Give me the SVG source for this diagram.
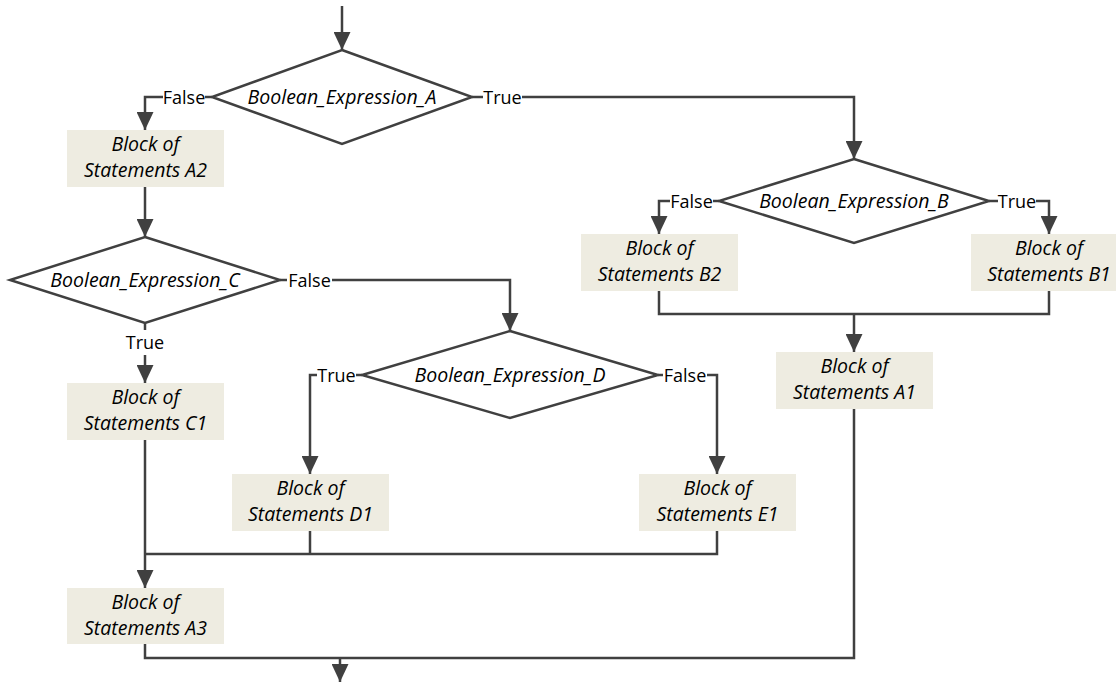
<svg xmlns="http://www.w3.org/2000/svg" width="1119" height="683" viewBox="0 0 1119 683">
<style>
.ln{fill:none;stroke:#404040;stroke-width:2.5;}
.arr{marker-end:url(#ah);}
.box{fill:#EEECE1;stroke:none;}
.dia{fill:#FFFFFF;stroke:#404040;stroke-width:2.5;stroke-linejoin:miter;}
.bt{font-family:"Open Sans","Liberation Sans",sans-serif;font-style:italic;font-size:19.5px;fill:#000;text-anchor:middle;}
.lb{font-family:"Open Sans","Liberation Sans",sans-serif;font-size:18px;fill:#000;text-anchor:middle;}
</style>
<defs>
<marker id="ah" viewBox="0 0 18 17" refX="18" refY="8.5" markerWidth="18" markerHeight="17" markerUnits="userSpaceOnUse" orient="auto">
<path d="M0,0 L18,8.5 L0,17 z" fill="#404040"/>
</marker>
</defs>
<rect width="1119" height="683" fill="#FFFFFF"/>
<g id="connectors">
<path class="ln arr" d="M342,6 L342,50"/>
<path class="ln" d="M212,97 L205,97"/>
<path class="ln arr" d="M163,97 L145,97 L145,130"/>
<path class="ln" d="M472,97 L483,97"/>
<path class="ln arr" d="M522,97 L854,97 L854,159"/>
<path class="ln arr" d="M145,187 L145,237"/>
<path class="ln" d="M280,280 L287,280"/>
<path class="ln arr" d="M332,280 L510,280 L510,331"/>
<path class="ln" d="M145,323 L145,330"/>
<path class="ln arr" d="M145,355 L145,383"/>
<path class="ln" d="M362,375 L356,375"/>
<path class="ln arr" d="M317,375 L310,375 L310,474"/>
<path class="ln" d="M658,375 L663,375"/>
<path class="ln arr" d="M707,375 L717,375 L717,474"/>
<path class="ln arr" d="M145,440 L145,588"/>
<path class="ln" d="M310,531 L310,554"/>
<path class="ln" d="M717,531 L717,554 L145,554"/>
<path class="ln" d="M145,644 L145,658 L854,658 L854,409"/>
<path class="ln arr" d="M340,658 L340,682"/>
<path class="ln" d="M719,201 L713,201"/>
<path class="ln arr" d="M670,201 L659,201 L659,234"/>
<path class="ln" d="M989,201 L998,201"/>
<path class="ln arr" d="M1036,201 L1049,201 L1049,234"/>
<path class="ln" d="M659,291 L659,314 L1049,314 L1049,291"/>
<path class="ln arr" d="M854,314 L854,352"/>
<text class="lb" x="184" y="103.5">False</text>
<text class="lb" x="502.5" y="103.5">True</text>
<text class="lb" x="309.5" y="286.5">False</text>
<text class="lb" x="145" y="348.5">True</text>
<text class="lb" x="336.5" y="381.5">True</text>
<text class="lb" x="685" y="381.5">False</text>
<text class="lb" x="691.5" y="207.5">False</text>
<text class="lb" x="1017" y="207.5">True</text>
</g>
<g id="decA">
<polygon class="dia" points="342,50 472,97 342,144 212,97"/>
<text class="bt" x="342" y="104">Boolean_Expression_A</text>
</g>
<g id="decB">
<polygon class="dia" points="854,159 989,201 854,243 719,201"/>
<text class="bt" x="854" y="208">Boolean_Expression_B</text>
</g>
<g id="decC">
<polygon class="dia" points="145,237 280,280 145,323 10,280"/>
<text class="bt" x="145" y="287">Boolean_Expression_C</text>
</g>
<g id="decD">
<polygon class="dia" points="510,331 658,375 510,418 362,375"/>
<text class="bt" x="510" y="382">Boolean_Expression_D</text>
</g>
<g id="boxA2">
<rect class="box" x="67" y="130" width="157" height="57"/>
<text class="bt" x="145.5" y="151">Block of</text>
<text class="bt" x="145.5" y="177">Statements A2</text>
</g>
<g id="boxB2">
<rect class="box" x="581" y="234" width="157" height="57"/>
<text class="bt" x="659.5" y="255">Block of</text>
<text class="bt" x="659.5" y="281">Statements B2</text>
</g>
<g id="boxB1">
<rect class="box" x="971" y="234" width="145" height="57"/>
<text class="bt" x="1049" y="255">Block of</text>
<text class="bt" x="1049" y="281">Statements B1</text>
</g>
<g id="boxC1">
<rect class="box" x="67" y="383" width="157" height="57"/>
<text class="bt" x="145.5" y="404">Block of</text>
<text class="bt" x="145.5" y="430">Statements C1</text>
</g>
<g id="boxA1">
<rect class="box" x="776" y="352" width="157" height="57"/>
<text class="bt" x="854.5" y="373">Block of</text>
<text class="bt" x="854.5" y="399">Statements A1</text>
</g>
<g id="boxD1">
<rect class="box" x="232" y="474" width="157" height="57"/>
<text class="bt" x="310.5" y="495">Block of</text>
<text class="bt" x="310.5" y="521">Statements D1</text>
</g>
<g id="boxE1">
<rect class="box" x="639" y="474" width="157" height="57"/>
<text class="bt" x="717.5" y="495">Block of</text>
<text class="bt" x="717.5" y="521">Statements E1</text>
</g>
<g id="boxA3">
<rect class="box" x="67" y="588" width="157" height="56"/>
<text class="bt" x="145.5" y="609">Block of</text>
<text class="bt" x="145.5" y="635">Statements A3</text>
</g>
</svg>
